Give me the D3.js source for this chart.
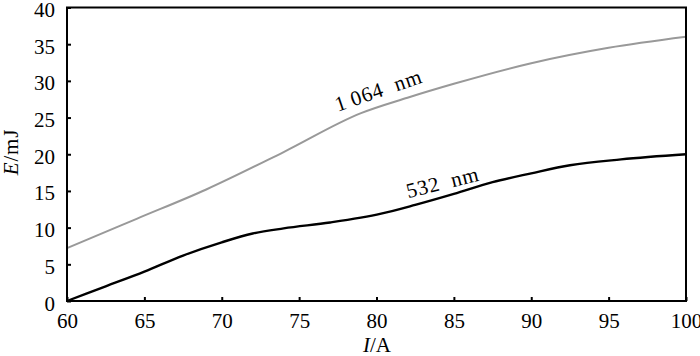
<!DOCTYPE html>
<html>
<head>
<meta charset="utf-8">
<script src="https://cdn.jsdelivr.net/npm/d3@7"></script>
<style>
  html, body { margin: 0; padding: 0; background: #fff; }
  svg { display: block; }
  svg text { font-family: "Liberation Serif", "Times New Roman", serif; fill: #000; }
</style>
</head>
<body>
<svg id="chart" width="700" height="356"></svg>
<script>
// Data
const xTicks = [60, 65, 70, 75, 80, 85, 90, 95, 100];
const yTicks = [0, 5, 10, 15, 20, 25, 30, 35, 40];
const current1064 = [60, 64.5, 69, 74, 79, 82, 85, 90, 95, 100];
const energy1064 = [7.2, 11.2, 15.2, 20.3, 25.6, 27.7, 29.6, 32.4, 34.5, 36.0];
const current532 = [60, 62.5, 65, 67.5, 70, 72, 74, 77, 80.3, 82.5, 85, 87.5, 90, 92.5, 95.8, 100];
const energy532 = [0, 2.0, 4.0, 6.2, 8.0, 9.2, 9.9, 10.7, 11.9, 13.1, 14.6, 16.2, 17.4, 18.5, 19.3, 20.0];
const labels = [
  { text: "1\u2009064\u00a0\u00a0nm", x: 77.5, y: 25.8, angle: -19 },
  { text: "532\u00a0\u00a0nm", x: 82.05, y: 14.0, angle: -14 }
];

const FONT = '"Liberation Serif", "Times New Roman", serif';
const svg = d3.select("#chart");
const mLeft = 67, mRight = 686, mTop = 7.5, mBottom = 301;
const x = d3.scaleLinear().domain([60, 100]).range([mLeft, mRight]);
const y = d3.scaleLinear().domain([0, 40]).range([mBottom, mTop]);

// Lines
const line = d3.line().x(d => x(d[0])).y(d => y(d[1])).curve(d3.curveMonotoneX);
svg.append("path")
  .datum(current1064.map((c, i) => [c, energy1064[i]]))
  .attr("d", line).attr("fill", "none")
  .attr("stroke", "#999").attr("stroke-width", 2);
svg.append("path")
  .datum(current532.map((c, i) => [c, energy532[i]]))
  .attr("d", line).attr("fill", "none")
  .attr("stroke", "#000").attr("stroke-width", 2.4);

// Frame
svg.append("rect")
  .attr("x", mLeft).attr("y", mTop)
  .attr("width", mRight - mLeft).attr("height", mBottom - mTop)
  .attr("fill", "none").attr("stroke", "#000").attr("stroke-width", 2);

// Axes
const xAxis = d3.axisBottom(x).tickValues(xTicks).tickSizeInner(-4).tickSizeOuter(0).tickPadding(12);
const gx = svg.append("g").attr("transform", `translate(0,${mBottom})`).call(xAxis);
const yAxis = d3.axisLeft(y).tickValues(yTicks).tickSizeInner(-4).tickSizeOuter(0).tickPadding(12);
const gy = svg.append("g").attr("transform", `translate(${mLeft},0)`).call(yAxis);
[gx, gy].forEach(g => {
  g.attr("font-family", null).attr("font-size", null);
  g.select(".domain").remove();
  g.selectAll(".tick line").attr("stroke", "#000").attr("stroke-width", 2);
  g.selectAll(".tick text").style("font-family", FONT).style("font-size", "21px");
});
gy.selectAll(".tick text").attr("dy", "0.43em");

// Axis titles
const xt = svg.append("text").attr("x", 377).attr("y", 352)
  .attr("text-anchor", "middle").style("font-family", FONT).style("font-size", "21px");
xt.append("tspan").style("font-style", "italic").text("I");
xt.append("tspan").text("/A");
const yt = svg.append("text").attr("transform", `translate(18,152)rotate(-90)`)
  .attr("text-anchor", "middle").style("font-family", FONT).style("font-size", "21px")
  .style("letter-spacing", "0.8px");
yt.append("tspan").style("font-style", "italic").text("E");
yt.append("tspan").text("/mJ");

// Curve labels
svg.selectAll(".clabel").data(labels).enter().append("text")
  .attr("class", "clabel")
  .attr("transform", d => `translate(${x(d.x)},${y(d.y)})rotate(${d.angle})`)
  .style("font-family", FONT)
  .style("font-size", "21px")
  .style("letter-spacing", "0.8px")
  .text(d => d.text);
</script>
</body>
</html>
